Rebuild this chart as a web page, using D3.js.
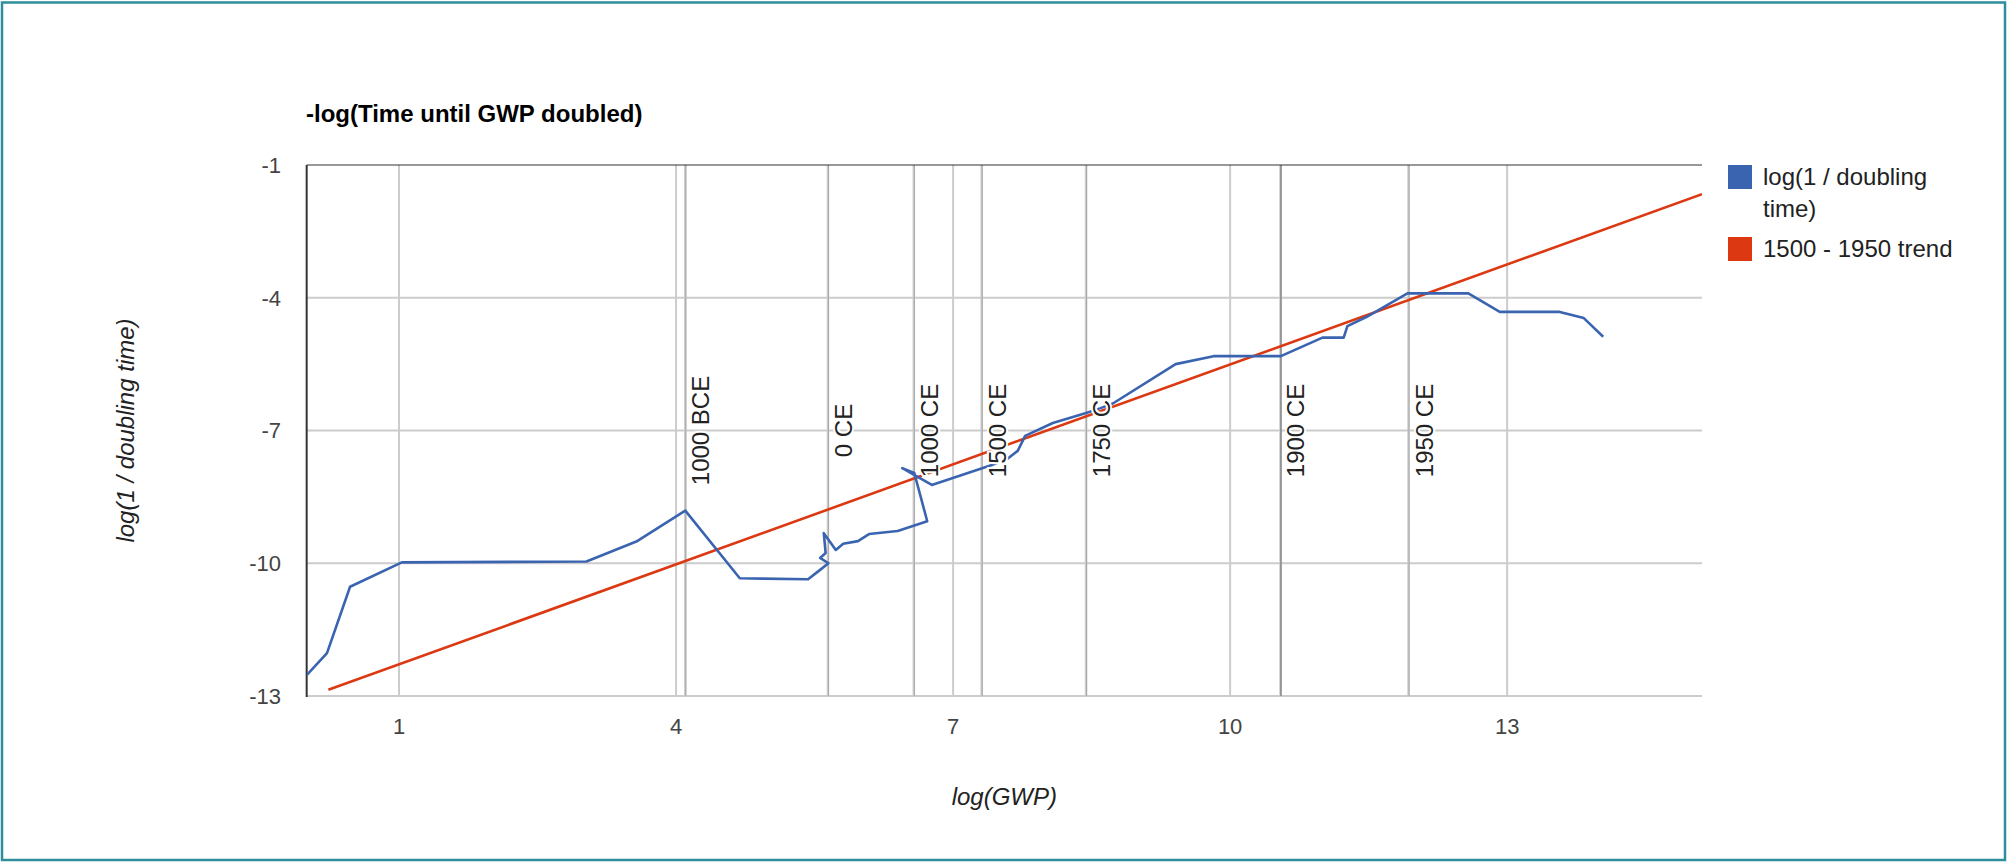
<!DOCTYPE html>
<html>
<head>
<meta charset="utf-8">
<script src="https://cdn.jsdelivr.net/npm/d3@7"></script>
<style>
  html, body { margin: 0; padding: 0; background: #fff; }
  svg { display: block; }
  text { font-family: "Liberation Sans", Arial, sans-serif; }
</style>
</head>
<body>
<svg id="chart" width="2008" height="862"></svg>
<script>
// ---- data ----
const chartTitle = "-log(Time until GWP doubled)";
const xTitle = "log(GWP)";
const yTitle = "log(1 / doubling time)";
const xTicks = [1, 4, 7, 10, 13];
const yTicks = [-1, -4, -7, -10, -13];
const seriesNames = ["log(1 / doubling time)", "1500 - 1950 trend"];

// blue series (log GWP, log(1/doubling time)), in drawing order
const gwpLog = [0.00, 0.22, 0.47, 1.03, 3.03, 3.57, 4.10, 4.69, 5.43, 5.56, 5.65, 5.56, 5.62, 5.60, 5.73, 5.81, 5.97, 6.09, 6.40, 6.72, 6.58, 6.45, 6.77, 7.42, 7.59, 7.70, 7.78, 8.08, 8.45, 8.59, 8.73, 9.41, 9.82, 10.55, 11.00, 11.23, 11.27, 11.48, 11.92, 12.58, 12.92, 13.57, 13.83, 14.04];
const doublingLog = [-12.53, -12.03, -10.53, -9.98, -9.96, -9.51, -8.81, -10.34, -10.36, -10.15, -10.00, -9.88, -9.77, -9.32, -9.70, -9.56, -9.50, -9.34, -9.27, -9.05, -7.96, -7.85, -8.23, -7.78, -7.64, -7.46, -7.12, -6.83, -6.60, -6.50, -6.39, -5.50, -5.32, -5.32, -4.90, -4.90, -4.64, -4.43, -3.90, -3.90, -4.32, -4.32, -4.46, -4.88];

// red trend line
const trendX = [0.235, 15.11];
const trendY = [-12.86, -1.66];

// era annotations
const eventNames = ["1000 BCE", "0 CE", "1000 CE", "1500 CE", "1750 CE", "1900 CE", "1950 CE"];
const eventX = [4.10, 5.645, 6.575, 7.31, 8.44, 10.545, 11.932];

// ---- layout ----
const svg = d3.select("#chart");
const L = 306.67, R = 1702, T = 165, B = 696;
const x = d3.scaleLinear().domain([0, 15.11]).range([L, R]);
const y = d3.scaleLinear().domain([-13, -1]).range([B, T]);

const blue = "#3a64b0", red = "#dc3912";

// frame
svg.append("rect").attr("x", 2).attr("y", 2.5).attr("width", 2003).attr("height", 857.5)
  .attr("fill", "#fff").attr("stroke", "#2f8e9b").attr("stroke-width", 2.5);

// title
svg.append("text").attr("x", 306).attr("y", 122)
  .attr("font-size", 24).attr("font-weight", "bold").attr("fill", "#000")
  .text(chartTitle);

// gridlines
const g = svg.append("g");
g.selectAll(".vg").data(xTicks).join("line")
  .attr("x1", d => x(d)).attr("x2", d => x(d)).attr("y1", T).attr("y2", B)
  .attr("stroke", "#cccccc").attr("stroke-width", 2);
g.selectAll(".hg").data(yTicks.filter(d => d !== -1)).join("line")
  .attr("x1", L).attr("x2", R).attr("y1", d => y(d)).attr("y2", d => y(d))
  .attr("stroke", "#cccccc").attr("stroke-width", 2);

// event lines
const ev = svg.append("g");
ev.selectAll(".e1").data(eventX).join("line")
  .attr("x1", d => x(d)).attr("x2", d => x(d)).attr("y1", T).attr("y2", B)
  .attr("stroke", "#cccccc").attr("stroke-width", 2.5);
ev.selectAll(".e2").data(eventX).join("line")
  .attr("x1", d => x(d) + 0.5).attr("x2", d => x(d) + 0.5).attr("y1", T).attr("y2", B)
  .attr("stroke", (d, i) => eventNames[i] === "1900 CE" ? "#888888" : "#a8a8a8")
  .attr("stroke-width", (d, i) => eventNames[i] === "1900 CE" ? 1.5 : 1);

// top line and left axis
svg.append("line").attr("x1", L).attr("x2", R).attr("y1", y(-1)).attr("y2", y(-1))
  .attr("stroke", "#333").attr("stroke-width", 1.2);
svg.append("line").attr("x1", L).attr("x2", L).attr("y1", T).attr("y2", B + 1)
  .attr("stroke", "#333").attr("stroke-width", 2);

// clip
svg.append("clipPath").attr("id", "clip").append("rect")
  .attr("x", L).attr("y", T - 2).attr("width", R - L).attr("height", B - T + 4);

const line = d3.line().x(d => x(d[0])).y(d => y(d[1]));
const plot = svg.append("g").attr("clip-path", "url(#clip)");
plot.append("path").datum(trendX.map((v, i) => [v, trendY[i]]))
  .attr("d", line).attr("fill", "none").attr("stroke", red).attr("stroke-width", 2.6);
plot.append("path").datum(gwpLog.map((v, i) => [v, doublingLog[i]]))
  .attr("d", line).attr("fill", "none").attr("stroke", blue).attr("stroke-width", 2.6)
  .attr("stroke-linejoin", "round");

// event labels
svg.append("g").selectAll("text").data(eventX).join("text")
  .attr("transform", d => `translate(${x(d) + 24},${y(-7)}) rotate(-90)`)
  .attr("text-anchor", "middle").attr("font-size", 24).attr("fill", "#222")
  .attr("stroke", "#fff").attr("stroke-width", 4).attr("paint-order", "stroke")
  .text((d, i) => eventNames[i]);

// axes tick labels
svg.append("g").selectAll("text").data(yTicks).join("text")
  .attr("x", 281).attr("y", d => y(d)).attr("dy", "0.36em")
  .attr("text-anchor", "end").attr("font-size", 22).attr("fill", "#444")
  .text(d => d);
svg.append("g").selectAll("text").data(xTicks).join("text")
  .attr("x", d => x(d)).attr("y", 734)
  .attr("text-anchor", "middle").attr("font-size", 22).attr("fill", "#444")
  .text(d => d);

// axis titles
svg.append("text").attr("x", (L + R) / 2).attr("y", 805)
  .attr("text-anchor", "middle").attr("font-size", 24).attr("font-style", "italic").attr("fill", "#222")
  .text(xTitle);
svg.append("text").attr("transform", `translate(134,${(T + B) / 2}) rotate(-90)`)
  .attr("text-anchor", "middle").attr("font-size", 24).attr("font-style", "italic").attr("fill", "#222")
  .text(yTitle);

// legend
const lg = svg.append("g");
lg.append("rect").attr("x", 1728).attr("y", 165).attr("width", 24).attr("height", 24).attr("fill", blue);
lg.append("text").attr("x", 1763).attr("y", 185).attr("font-size", 24).attr("fill", "#222").text("log(1 / doubling");
lg.append("text").attr("x", 1763).attr("y", 217).attr("font-size", 24).attr("fill", "#222").text("time)");
lg.append("rect").attr("x", 1728).attr("y", 237).attr("width", 24).attr("height", 24).attr("fill", red);
lg.append("text").attr("x", 1763).attr("y", 257).attr("font-size", 24).attr("fill", "#222").text(seriesNames[1]);
</script>
</body>
</html>
